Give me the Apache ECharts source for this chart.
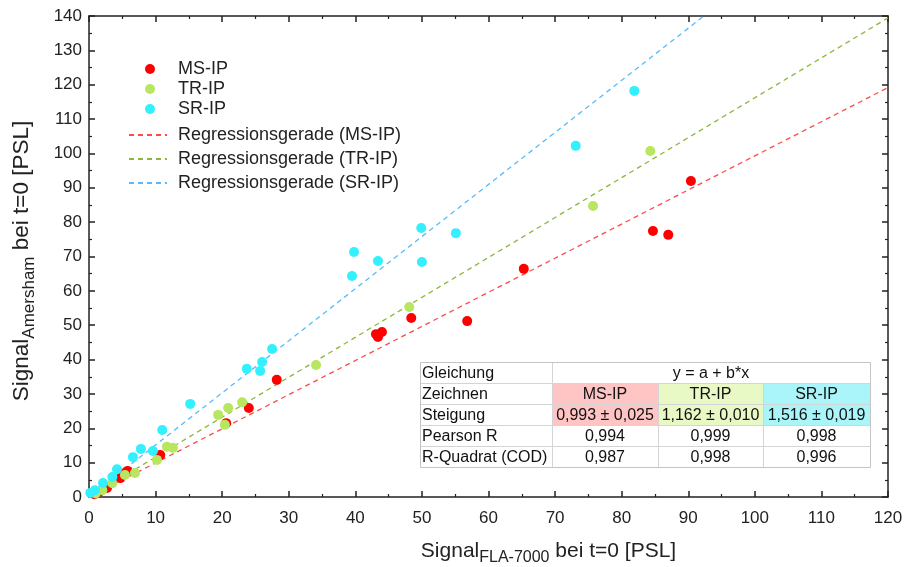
<!DOCTYPE html>
<html>
<head>
<meta charset="utf-8">
<script src="https://cdn.jsdelivr.net/npm/echarts@6/dist/echarts.min.js"></script>
<style>html,body{margin:0;padding:0;background:#fff}#c{width:907px;height:567px}</style>
</head>
<body>
<div id="c"></div>
<script>
// ---- data ----
const seriesNames = ['MS-IP', 'TR-IP', 'SR-IP'];
const msX = [90.4, 84.7, 87.0, 65.3, 56.8, 48.4, 44.0, 43.1, 43.4, 28.2, 24.0, 20.6, 10.7, 5.8, 5.4, 4.7, 2.7, 1.5, 0.8];
const msY = [92.0, 77.4, 76.3, 66.4, 51.2, 52.1, 48.0, 47.4, 46.6, 34.1, 25.9, 21.5, 12.2, 7.6, 7.0, 5.5, 2.6, 1.5, 0.8];
const trX = [84.3, 75.7, 48.1, 34.1, 23.0, 20.9, 19.4, 20.4, 12.6, 11.7, 10.2, 6.9, 5.4, 3.5, 2.0, 1.0];
const trY = [100.7, 84.7, 55.3, 38.4, 27.6, 25.9, 23.9, 21.0, 14.3, 14.6, 10.8, 7.0, 6.4, 4.0, 2.0, 1.0];
const srX = [81.9, 73.1, 49.9, 55.1, 50.0, 39.8, 43.4, 39.5, 27.5, 26.0, 25.7, 23.7, 15.2, 11.0, 7.8, 9.6, 6.6, 4.2, 3.5, 2.1, 0.9, 0.2];
const srY = [118.2, 102.2, 78.3, 76.8, 68.4, 71.3, 68.7, 64.3, 43.1, 39.3, 36.7, 37.3, 27.1, 19.5, 14.0, 13.4, 11.6, 8.1, 5.8, 4.1, 2.0, 1.2];
const intercepts = [0.0, 0.0, 0.0];
const slopes = [0.993, 1.162, 1.516];
const lineNames = ['Regressionsgerade (MS-IP)', 'Regressionsgerade (TR-IP)', 'Regressionsgerade (SR-IP)'];
const xTicks = [0, 120, 10];
const yTicks = [0, 140, 10];
// table texts
const tableRowLabels = ['Gleichung', 'Zeichnen', 'Steigung', 'Pearson R', 'R-Quadrat (COD)'];
const equationText = 'y = a + b*x';
const slopeText = ['0,993 ± 0,025', '1,162 ± 0,010', '1,516 ± 0,019'];
const pearsonR = ['0,994', '0,999', '0,998'];
const rSquared = ['0,987', '0,998', '0,996'];

// ---- styles ----
const FONT = '"Liberation Sans", Arial, sans-serif';
const pointColors = ['#ff0000', '#b8e660', '#33f0ff'];
const lineColors = ['#ff4a4a', '#8ab83c', '#55bbff'];
const cellColors = ['#ffc4c4', '#e9f9c6', '#aaf5fa'];
const AX = '#222';

const zip = (xs, ys) => xs.map((x, i) => [x, ys[i]]);
const pointSeries = [zip(msX, msY), zip(trX, trY), zip(srX, srY)];

const series = [];
for (let k = 0; k < 3; k++) {
  series.push({
    name: lineNames[k], type: 'line', showSymbol: false, symbol: 'none', clip: true, z: 2,
    data: [[xTicks[0], intercepts[k] + slopes[k] * xTicks[0]], [xTicks[1], intercepts[k] + slopes[k] * xTicks[1]]],
    lineStyle: { color: lineColors[k], width: 1.3, type: [5, 4] },
    itemStyle: { color: lineColors[k] },
    animation: false
  });
}
for (let k = 0; k < 3; k++) {
  series.push({
    name: seriesNames[k], type: 'scatter', symbolSize: 10, z: 3,
    data: pointSeries[k], itemStyle: { color: pointColors[k], opacity: 1 },
    animation: false
  });
}

// table graphic
const colX = [420, 552, 658, 763, 870];
const rowY = [362, 383, 404, 425, 446, 467];
const tblEls = [];
tblEls.push({ type: 'rect', shape: { x: colX[0], y: rowY[0], width: colX[4] - colX[0], height: rowY[5] - rowY[0] }, style: { fill: '#fff', stroke: null }, z: 10 });
for (let c = 0; c < 3; c++) {
  for (let r = 1; r <= 2; r++) {
    tblEls.push({ type: 'rect', shape: { x: colX[c + 1], y: rowY[r], width: colX[c + 2] - colX[c + 1], height: rowY[r + 1] - rowY[r] }, style: { fill: cellColors[c] }, z: 11 });
  }
}
for (let r = 1; r < 5; r++) {
  tblEls.push({ type: 'line', shape: { x1: colX[0], y1: rowY[r] + 0.5, x2: colX[4], y2: rowY[r] + 0.5 }, style: { stroke: '#d4d4d4', lineWidth: 1 }, z: 12 });
}
tblEls.push({ type: 'line', shape: { x1: colX[1] + 0.5, y1: rowY[0], x2: colX[1] + 0.5, y2: rowY[5] }, style: { stroke: '#d4d4d4', lineWidth: 1 }, z: 12 });
for (let c = 2; c < 4; c++) {
  tblEls.push({ type: 'line', shape: { x1: colX[c] + 0.5, y1: rowY[1], x2: colX[c] + 0.5, y2: rowY[5] }, style: { stroke: '#d4d4d4', lineWidth: 1 }, z: 12 });
}
tblEls.push({ type: 'rect', shape: { x: colX[0] + 0.5, y: rowY[0] + 0.5, width: colX[4] - colX[0], height: rowY[5] - rowY[0] }, style: { fill: null, stroke: '#c4c4c4', lineWidth: 1 }, z: 12 });
const tfont = { fontSize: 16, fontFamily: FONT, fill: '#111' };
for (let r = 0; r < 5; r++) {
  tblEls.push({ type: 'text', x: colX[0] + 2, y: (rowY[r] + rowY[r + 1]) / 2 + 1, style: Object.assign({ text: tableRowLabels[r], align: 'left', verticalAlign: 'middle' }, tfont), z: 13 });
}
tblEls.push({ type: 'text', x: (colX[1] + colX[4]) / 2, y: (rowY[0] + rowY[1]) / 2 + 1, style: Object.assign({ text: equationText, align: 'center', verticalAlign: 'middle' }, tfont), z: 13 });
const rowsData = [seriesNames, slopeText, pearsonR, rSquared];
for (let r = 0; r < 4; r++) {
  for (let c = 0; c < 3; c++) {
    tblEls.push({ type: 'text', x: (colX[c + 1] + colX[c + 2]) / 2, y: (rowY[r + 1] + rowY[r + 2]) / 2 + 1, style: Object.assign({ text: rowsData[r][c], align: 'center', verticalAlign: 'middle' }, tfont), z: 13 });
  }
}

const baseAxis = {
  axisLine: { show: true, onZero: false, lineStyle: { color: AX, width: 1.5 } },
  axisTick: { show: true, inside: true, length: 6, lineStyle: { color: AX, width: 1.5 } },
  minorTick: { show: true, splitNumber: 2, length: 3, lineStyle: { color: AX, width: 1.2 } },
  splitLine: { show: false },
};
const richX = {
  a: { fontSize: 21, fontFamily: FONT, color: '#222', lineHeight: 30 },
  b: { fontSize: 16, fontFamily: FONT, color: '#222', lineHeight: 16, verticalAlign: 'bottom' }
};
const richY = {
  a: { fontSize: 22.5, fontFamily: FONT, color: '#222', lineHeight: 32 },
  b: { fontSize: 17, fontFamily: FONT, color: '#222', lineHeight: 17, verticalAlign: 'bottom' }
};

const option = {
  backgroundColor: '#fff',
  animation: false,
  textStyle: { fontFamily: FONT },
  grid: { left: 89, right: 19, top: 16, bottom: 70, containLabel: false, outerBoundsMode: 'none' },
  legend: [
    {
      data: seriesNames.map(n => ({ name: n, icon: 'circle' })),
      orient: 'vertical', left: 140, top: 54, itemWidth: 38, itemHeight: 10, itemGap: 0,
      textStyle: { fontSize: 18, fontFamily: FONT, color: '#222', lineHeight: 20, padding: [0, 0, 0, 4] },
      selectedMode: false
    },
    {
      data: lineNames,
      orient: 'vertical', left: 123, top: 120, itemWidth: 38, itemHeight: 10, itemGap: 4,
      itemStyle: { opacity: 0 },
      textStyle: { fontSize: 18, fontFamily: FONT, color: '#222', lineHeight: 20, padding: [0, 0, 0, 6] },
      selectedMode: false
    }
  ],
  xAxis: [
    Object.assign({}, baseAxis, {
      type: 'value', min: xTicks[0], max: xTicks[1], interval: xTicks[2], position: 'bottom',
      axisLabel: { fontSize: 17, color: AX, margin: 13, fontFamily: FONT },
      name: '{a|Signal}{b|FLA-7000}{a| bei t=0 [PSL]}', nameLocation: 'middle', nameGap: 39,
      nameTextStyle: { rich: richX, padding: [0, 0, 0, 120] }
    }),
    Object.assign({}, baseAxis, {
      type: 'value', min: xTicks[0], max: xTicks[1], interval: xTicks[2], position: 'top',
      axisLabel: { show: false }
    })
  ],
  yAxis: [
    Object.assign({}, baseAxis, {
      type: 'value', min: yTicks[0], max: yTicks[1], interval: yTicks[2], position: 'left',
      axisLabel: { fontSize: 17, color: AX, margin: 7, fontFamily: FONT },
      name: '{a|Signal}{b|Amersham}{a| bei t=0 [PSL]}', nameLocation: 'middle', nameGap: 51,
      nameTextStyle: { rich: richY, padding: [0, 9, 0, 0] }
    }),
    Object.assign({}, baseAxis, {
      type: 'value', min: yTicks[0], max: yTicks[1], interval: yTicks[2], position: 'right',
      axisLabel: { show: false }
    })
  ],
  graphic: [{ type: 'group', elements: tblEls }],
  series: series
};
const chart = echarts.init(document.getElementById('c'), null, { renderer: 'canvas' });
chart.setOption(option);
</script>
</body>
</html>
